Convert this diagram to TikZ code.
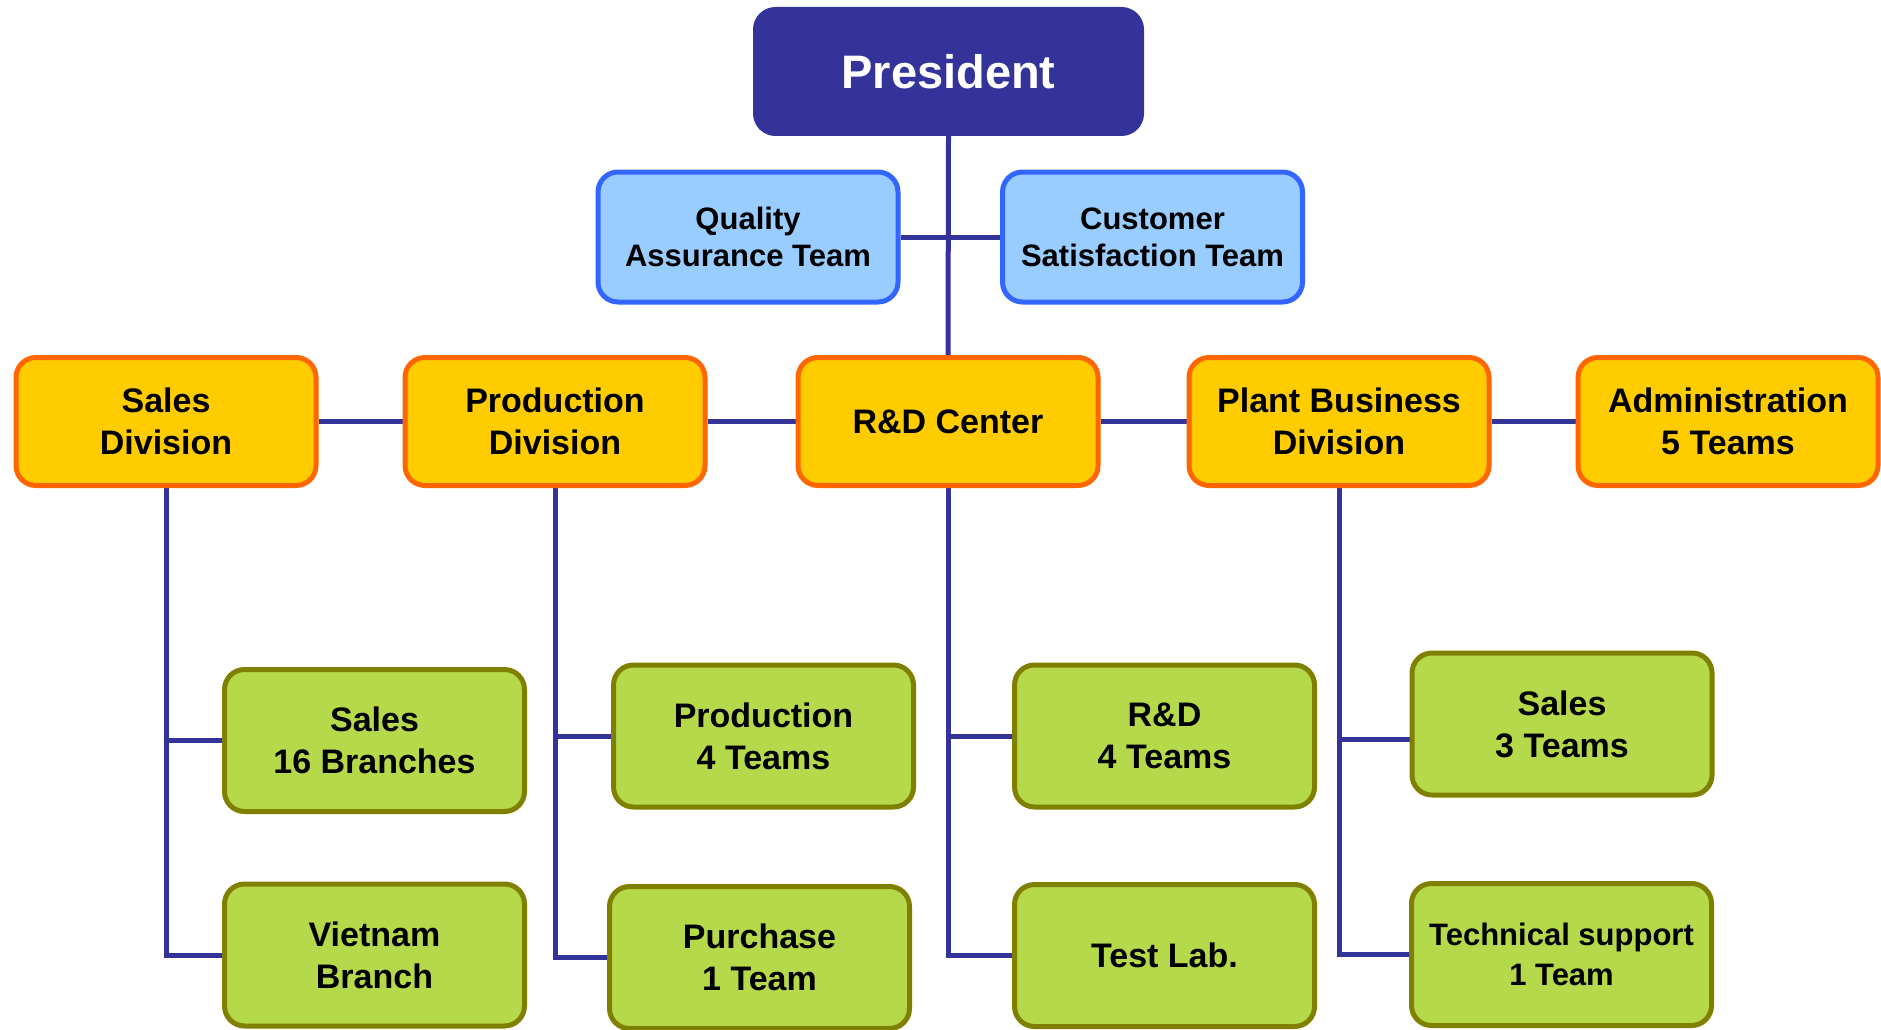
\documentclass[tikz,border=0pt]{standalone}
\usepackage{fontspec}
\setmainfont{Liberation Sans}
\usetikzlibrary{backgrounds,calc}
\definecolor{navy}{HTML}{333399}
\definecolor{bluefill}{HTML}{99CCFF}
\definecolor{blueline}{HTML}{3366FF}
\definecolor{orfill}{HTML}{FFCC00}
\definecolor{orline}{HTML}{FF6600}
\definecolor{grfill}{HTML}{B5D94A}
\definecolor{grline}{HTML}{808000}
\tikzset{
  box/.style={rounded corners=20pt, line width=5pt, align=center, inner sep=0pt, font=\bfseries},
  presbox/.style={box, fill=navy, draw=navy, text=white, minimum width=386pt, minimum height=124pt, font=\bfseries\fontsize{47}{56}\selectfont},
  bluebox/.style={box, fill=bluefill, draw=blueline, minimum width=300pt, minimum height=130pt, font=\bfseries\fontsize{31}{37}\selectfont},
  orbox/.style={box, fill=orfill, draw=orline, minimum width=300pt, minimum height=128pt, font=\bfseries\fontsize{34}{42}\selectfont},
  grbox/.style={box, fill=grfill, draw=grline, minimum width=300pt, minimum height=142pt, font=\bfseries\fontsize{34}{42}\selectfont},
  conn/.style={draw=navy, line width=5pt}
}
\begin{document}
\begin{tikzpicture}[x=1pt,y=-1pt]
\useasboundingbox (0,0) rectangle (1881,1030);

\node[presbox] (pres) at (948.5,71.5) {President};
\node[bluebox] (qa) at (748,237) {Quality\\Assurance Team};
\node[bluebox] (cs) at (1152.5,237) {Customer\\Satisfaction Team};

\node[orbox] (sales) at (166,421.5) {Sales\\Division};
\node[orbox] (prod) at (555,421.5) {Production\\Division};
\node[orbox] (rd) at (948,421.5) {R\&D Center};
\node[orbox] (plant) at (1339,421.5) {Plant Business\\Division};
\node[orbox] (admin) at (1728,421.5) {Administration\\5 Teams};

\node[grbox] (s16) at (374.5,740.5) {Sales\\16 Branches};
\node[grbox] (vn) at (374.5,955) {Vietnam\\Branch};
\node[grbox] (p4) at (763.5,736) {Production\\4 Teams};
\node[grbox] (pur) at (759.5,957.5) {Purchase\\1 Team};
\node[grbox] (rd4) at (1164.5,736) {R\&D\\4 Teams};
\node[grbox] (tl) at (1164.5,955.5) {Test Lab.};
\node[grbox] (s3) at (1562,724) {Sales\\3 Teams};
\node[grbox, font=\bfseries\fontsize{31}{40}\selectfont] (ts) at (1561.5,954.5) {Technical support\\1 Team};

\begin{pgfonlayer}{background}
\fill[white] (0,0) rectangle (1881,1030);
\draw[conn] (pres.south) -- (rd.north);
\draw[conn] (qa.east) -- (cs.west);
\draw[conn] (sales.east) -- (prod.west);
\draw[conn] (prod.east) -- (rd.west);
\draw[conn] (rd.east) -- (plant.west);
\draw[conn] (plant.east) -- (admin.west);
\draw[conn] (sales.south) |- (s16.west);
\draw[conn] (sales.south) |- (vn.west);
\draw[conn] (prod.south) |- (p4.west);
\draw[conn] (prod.south) |- (pur.west);
\draw[conn] (rd.south) |- (rd4.west);
\draw[conn] (rd.south) |- (tl.west);
\draw[conn] (plant.south) |- ($(s3.west)+(0,15)$);
\draw[conn] (plant.south) |- (ts.west);
\end{pgfonlayer}
\end{tikzpicture}
\end{document}
